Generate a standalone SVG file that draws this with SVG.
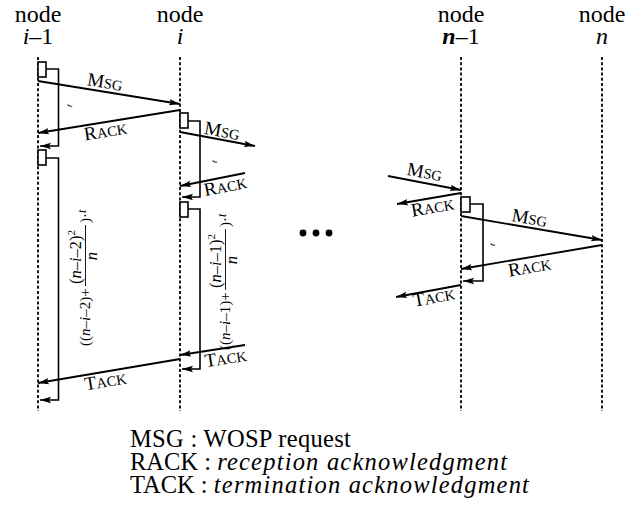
<svg xmlns="http://www.w3.org/2000/svg" width="644" height="509" viewBox="0 0 644 509">
<defs>
<marker id="ah" markerWidth="12" markerHeight="8" refX="11" refY="4" orient="auto" markerUnits="userSpaceOnUse"><path d="M0,0.8 L11,4 L0,7.2 L2,4 z" fill="#000"/></marker>
</defs>
<rect width="644" height="509" fill="#fff"/>

<g id="node-i-1">
<text style="font-family:'Liberation Serif'" font-size="24" text-anchor="middle" x="38" y="22">node</text>
<text style="font-family:'Liberation Serif'" font-size="24" text-anchor="middle" x="38" y="44"><tspan font-style="italic">i</tspan>–1</text>
<line stroke="#000" stroke-width="1.8" stroke-dasharray="3 2.2" x1="38" y1="57" x2="38" y2="411"/>
</g>
<g id="node-i">
<text style="font-family:'Liberation Serif'" font-size="24" text-anchor="middle" x="180" y="22">node</text>
<text style="font-family:'Liberation Serif'" font-size="24" text-anchor="middle" font-style="italic" x="180" y="44">i</text>
<line stroke="#000" stroke-width="1.8" stroke-dasharray="3 2.2" x1="180" y1="57" x2="180" y2="411"/>
</g>
<g id="node-n-1">
<text style="font-family:'Liberation Serif'" font-size="24" text-anchor="middle" x="461" y="22">node</text>
<text style="font-family:'Liberation Serif'" font-size="24" text-anchor="middle" x="461" y="44"><tspan font-style="italic" font-weight="bold">n</tspan>–1</text>
<line stroke="#000" stroke-width="1.8" stroke-dasharray="3 2.2" x1="461" y1="57" x2="461" y2="411"/>
</g>
<g id="node-n">
<text style="font-family:'Liberation Serif'" font-size="24" text-anchor="middle" x="602" y="22">node</text>
<text style="font-family:'Liberation Serif'" font-size="24" text-anchor="middle" font-style="italic" x="602" y="44">n</text>
<line stroke="#000" stroke-width="1.8" stroke-dasharray="3 2.2" x1="602" y1="57" x2="602" y2="411"/>
</g>

<g id="timers" stroke="#000" stroke-width="1.6">
<rect fill="#fff" x="38" y="62" width="8" height="15"/>
<path fill="none" d="M46,69 H58.5 V146 H40" marker-end="url(#ah)"/>
<rect fill="#fff" x="38" y="150" width="8" height="15"/>
<path fill="none" d="M46,158 H58.5 V400 H40" marker-end="url(#ah)"/>
<rect fill="#fff" x="180" y="113" width="8" height="15"/>
<path fill="none" d="M188,121 H200 V197 H182" marker-end="url(#ah)"/>
<rect fill="#fff" x="180" y="202" width="8" height="15"/>
<path fill="none" d="M188,209 H200 V369 H182" marker-end="url(#ah)"/>
<rect fill="#fff" x="461" y="197" width="9" height="15"/>
<path fill="none" d="M470,204 H483 V281 H463" marker-end="url(#ah)"/>
</g>

<g id="timer-labels">
<text style="font-family:'Liberation Serif'" font-size="9" font-style="italic" text-anchor="middle" transform="translate(72,106) rotate(-80)">t</text>
<text style="font-family:'Liberation Serif'" font-size="9" font-style="italic" text-anchor="middle" transform="translate(217,162) rotate(-80)">t</text>
<text style="font-family:'Liberation Serif'" font-size="9" font-style="italic" text-anchor="middle" transform="translate(495,245) rotate(-80)">t</text>
<g transform="translate(90,346) rotate(-90)">
<text style="font-family:'Liberation Serif'" font-size="15" x="0" y="0">((<tspan font-style="italic">n</tspan>–<tspan font-style="italic">i</tspan>–2)+</text>
<text style="font-family:'Liberation Serif'" font-size="16.5" x="62" y="-9">(<tspan font-style="italic">n</tspan>–<tspan font-style="italic">i</tspan>–2)<tspan font-size="11" dy="-6">2</tspan></text>
<line x1="60" y1="-4.5" x2="121" y2="-4.5" stroke="#000" stroke-width="0.9"/>
<text style="font-family:'Liberation Serif'" font-size="16.5" font-style="italic" x="90" y="7" text-anchor="middle">n</text>
<text style="font-family:'Liberation Serif'" font-size="15" x="123" y="0">)·<tspan font-style="italic" font-size="12" dy="-4">t</tspan></text>
</g>
<g transform="translate(230,350) rotate(-90)">
<text style="font-family:'Liberation Serif'" font-size="15" x="0" y="0">((<tspan font-style="italic">n</tspan>–<tspan font-style="italic">i</tspan>–1)+</text>
<text style="font-family:'Liberation Serif'" font-size="16.5" x="62" y="-9">(<tspan font-style="italic">n</tspan>–<tspan font-style="italic">i</tspan>–1)<tspan font-size="11" dy="-6">2</tspan></text>
<line x1="60" y1="-4.5" x2="121" y2="-4.5" stroke="#000" stroke-width="0.9"/>
<text style="font-family:'Liberation Serif'" font-size="16.5" font-style="italic" x="90" y="7" text-anchor="middle">n</text>
<text style="font-family:'Liberation Serif'" font-size="15" x="123" y="0">)·<tspan font-style="italic" font-size="12" dy="-4">t</tspan></text>
</g>
</g>

<g id="connectors" stroke="#000" stroke-width="1.8" marker-end="url(#ah)">
<line x1="38" y1="81" x2="180" y2="104"/>
<line x1="180" y1="110" x2="38" y2="133"/>
<line x1="180" y1="132" x2="255" y2="146"/>
<line x1="245" y1="173" x2="180" y2="186"/>
<line x1="245" y1="345" x2="180" y2="355"/>
<line x1="180" y1="359" x2="38" y2="383"/>
<line x1="388" y1="176" x2="461" y2="190"/>
<line x1="461" y1="193" x2="397" y2="204"/>
<line x1="461" y1="216" x2="602" y2="240"/>
<line x1="602" y1="245" x2="461" y2="269"/>
<line x1="461" y1="285" x2="396" y2="297"/>
</g>

<g id="connector-labels">
<text style="font-family:'Liberation Serif'" font-size="19" text-anchor="middle" transform="translate(104,88) rotate(9.2)">M<tspan font-size="14.5">SG</tspan></text>
<text style="font-family:'Liberation Serif'" font-size="19" text-anchor="middle" transform="translate(106.5,137) rotate(-9.2)">R<tspan font-size="14.5">ACK</tspan></text>
<text style="font-family:'Liberation Serif'" font-size="19" text-anchor="middle" transform="translate(221,137) rotate(10.6)">M<tspan font-size="14.5">SG</tspan></text>
<text style="font-family:'Liberation Serif'" font-size="19" text-anchor="middle" transform="translate(226.5,192) rotate(-11.3)">R<tspan font-size="14.5">ACK</tspan></text>
<text style="font-family:'Liberation Serif'" font-size="19" text-anchor="middle" transform="translate(226.5,364) rotate(-8.7)">T<tspan font-size="14.5">ACK</tspan></text>
<text style="font-family:'Liberation Serif'" font-size="19" text-anchor="middle" transform="translate(106.5,387) rotate(-9.6)">T<tspan font-size="14.5">ACK</tspan></text>
<text style="font-family:'Liberation Serif'" font-size="19" text-anchor="middle" transform="translate(423.5,178) rotate(10.9)">M<tspan font-size="14.5">SG</tspan></text>
<text style="font-family:'Liberation Serif'" font-size="19" text-anchor="middle" transform="translate(433.5,213) rotate(-9.8)">R<tspan font-size="14.5">ACK</tspan></text>
<text style="font-family:'Liberation Serif'" font-size="19" text-anchor="middle" transform="translate(528.5,224) rotate(9.7)">M<tspan font-size="14.5">SG</tspan></text>
<text style="font-family:'Liberation Serif'" font-size="19" text-anchor="middle" transform="translate(530.5,273) rotate(-9.7)">R<tspan font-size="14.5">ACK</tspan></text>
<text style="font-family:'Liberation Serif'" font-size="19" text-anchor="middle" transform="translate(435,303) rotate(-10.5)">T<tspan font-size="14.5">ACK</tspan></text>
</g>

<g id="ellipsis">
<circle cx="303" cy="233" r="3.4"/>
<circle cx="316" cy="233" r="3.4"/>
<circle cx="329" cy="233" r="3.4"/>
</g>

<g id="legend">
<text style="font-family:'Liberation Serif'" font-size="24.5" letter-spacing="0.3" x="130" y="447">MSG : WOSP request</text>
<text style="font-family:'Liberation Serif'" font-size="24.5" x="130" y="470">RACK : <tspan font-style="italic" letter-spacing="1.2">reception acknowledgment</tspan></text>
<text style="font-family:'Liberation Serif'" font-size="24.5" x="130" y="493">TACK : <tspan font-style="italic" letter-spacing="1.2">termination acknowledgment</tspan></text>
</g>
</svg>
